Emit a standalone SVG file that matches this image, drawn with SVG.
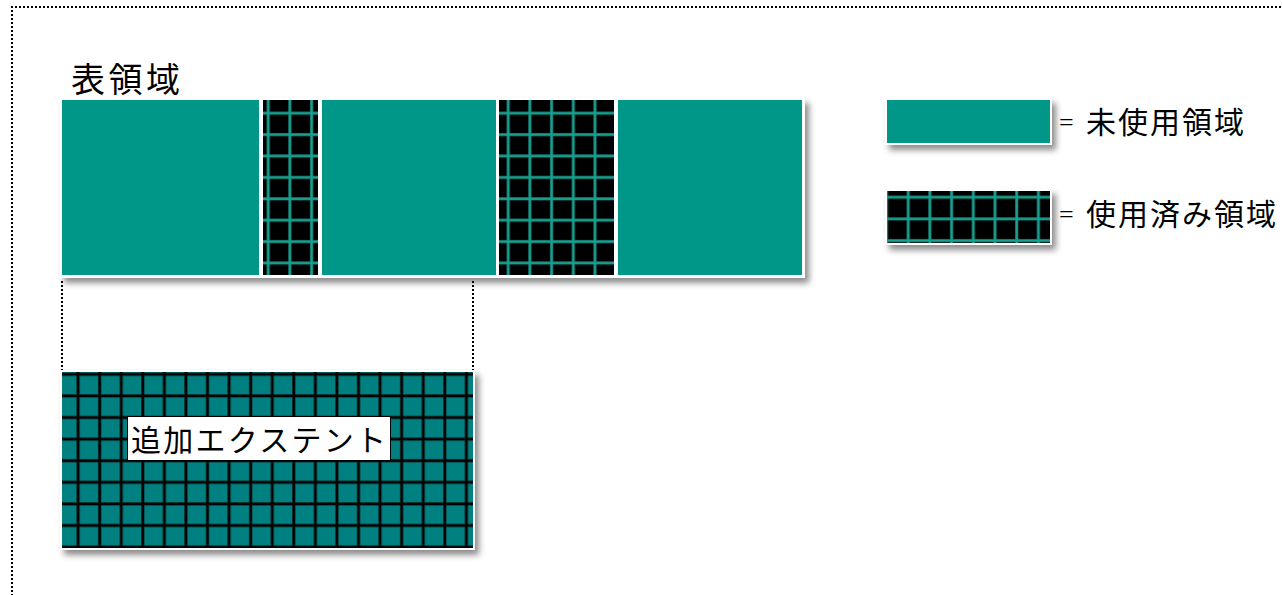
<svg xmlns="http://www.w3.org/2000/svg" width="1282" height="595" viewBox="0 0 1282 595">
<style>
.teal{fill:#009688}
.frame{fill:#ffffff}
.dot{fill:none;stroke:#000;stroke-width:2;stroke-dasharray:2 2}
.lbl{font-family:"Noto Sans CJK JP","Noto Sans",sans-serif;fill:#000}
.eq{font-family:"Liberation Serif",serif;fill:#000}
</style>
<defs>
<filter id="sh" x="-10%" y="-10%" width="130%" height="140%">
<feDropShadow dx="4" dy="5" stdDeviation="3" flood-color="#000" flood-opacity="0.45"/>
</filter>
<pattern id="usedA" patternUnits="userSpaceOnUse" x="266.5" y="111.5" width="21.7" height="21.4">
<rect width="21.7" height="21.4" fill="#000"/>
<rect x="0" y="0" width="21.7" height="3.4" fill="#0a5a52"/>
<rect x="0" y="0" width="3.4" height="21.4" fill="#0a5a52"/>
<rect x="0.6" y="0" width="2.2" height="21.4" fill="#1aa090"/>
<rect x="0" y="0.6" width="21.7" height="2.2" fill="#1aa090"/>
</pattern>
<pattern id="usedB" patternUnits="userSpaceOnUse" x="506.5" y="111.5" width="21.7" height="21.4">
<rect width="21.7" height="21.4" fill="#000"/>
<rect x="0" y="0" width="21.7" height="3.4" fill="#0a5a52"/>
<rect x="0" y="0" width="3.4" height="21.4" fill="#0a5a52"/>
<rect x="0.6" y="0" width="2.2" height="21.4" fill="#1aa090"/>
<rect x="0" y="0.6" width="21.7" height="2.2" fill="#1aa090"/>
</pattern>
<pattern id="usedC" patternUnits="userSpaceOnUse" x="906.5" y="195.5" width="21.7" height="21.7">
<rect width="21.7" height="21.7" fill="#000"/>
<rect x="0" y="0" width="21.7" height="3.4" fill="#0a5a52"/>
<rect x="0" y="0" width="3.4" height="21.7" fill="#0a5a52"/>
<rect x="0.6" y="0" width="2.2" height="21.7" fill="#1aa090"/>
<rect x="0" y="0.6" width="21.7" height="2.2" fill="#1aa090"/>
</pattern>
<pattern id="ext" patternUnits="userSpaceOnUse" x="76.3" y="372.5" width="21.57" height="21.6">
<rect width="21.57" height="21.6" fill="#008080"/>
<rect x="0" y="0" width="21.57" height="3.6" fill="#0a3f3f"/>
<rect x="0" y="0" width="3.6" height="21.6" fill="#0a3f3f"/>
<rect x="0.7" y="0" width="2.2" height="21.6" fill="#000"/>
<rect x="0" y="0.7" width="21.57" height="2.2" fill="#000"/>
</pattern>
</defs>
<rect width="1282" height="595" fill="#fff"/>
<path class="dot" d="M12,600 V7 H1290"/>
<text class="lbl" x="71" y="92" font-size="34" textLength="109" lengthAdjust="spacing">表領域</text>
<g id="tablespace">
<rect class="frame" x="60" y="98" width="745" height="180" filter="url(#sh)"/>
<rect id="free1" class="teal" x="62" y="100" width="197" height="175"/>
<rect id="used1" fill="url(#usedA)" x="263" y="100" width="55" height="175"/>
<rect id="free2" class="teal" x="322" y="100" width="174" height="175"/>
<rect id="used2" fill="url(#usedB)" x="499" y="100" width="115" height="175"/>
<rect id="free3" class="teal" x="618" y="100" width="184" height="175"/>
</g>
<g id="legend-free">
<rect class="frame" x="885" y="98" width="167" height="47" filter="url(#sh)"/>
<rect class="teal" x="887" y="100" width="163" height="43"/>
<text class="eq" x="1059" y="131" font-size="26">=</text>
<text class="lbl" x="1086" y="133" font-size="30" textLength="158" lengthAdjust="spacing">未使用領域</text>
</g>
<g id="legend-used">
<rect class="frame" x="885" y="189" width="167" height="56" filter="url(#sh)"/>
<rect fill="url(#usedC)" x="887" y="191" width="163" height="52"/>
<text class="eq" x="1059" y="223" font-size="26">=</text>
<text class="lbl" x="1086" y="225" font-size="30" textLength="190" lengthAdjust="spacing">使用済み領域</text>
</g>
<g id="connectors">
<line class="dot" x1="62" y1="281" x2="62" y2="371"/>
<line class="dot" x1="473" y1="281" x2="473" y2="371"/>
</g>
<g id="extent">
<rect class="frame" x="60" y="370" width="415" height="180" filter="url(#sh)"/>
<rect fill="url(#ext)" x="62" y="372" width="411" height="176"/>
<rect x="127.5" y="416.5" width="263" height="44" fill="#fff" stroke="#000" stroke-width="1"/>
<text class="lbl" x="131" y="451" font-size="30" textLength="255" lengthAdjust="spacing">追加エクステント</text>
</g>
</svg>
